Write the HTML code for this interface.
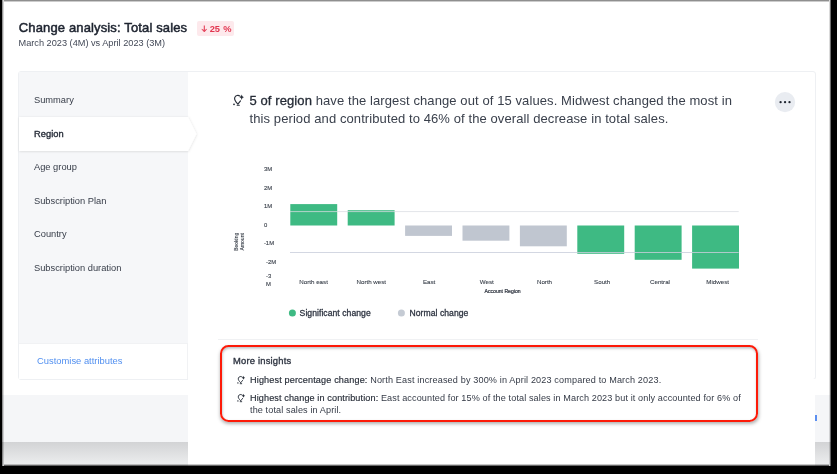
<!DOCTYPE html>
<html><head><meta charset="utf-8">
<style>
*{margin:0;padding:0;box-sizing:border-box}
html,body{width:837px;height:474px;overflow:hidden;background:#000}
body{font-family:"Liberation Sans",sans-serif;position:relative;-webkit-font-smoothing:antialiased}
.a{position:absolute}
#frame{left:2px;top:0;width:829px;height:466px;background:#fff;overflow:hidden;will-change:transform}
.t{white-space:nowrap;line-height:1}
</style></head><body>
<div id="frame" class="a">
  <!-- header -->
  <div class="a t" style="left:16.8px;top:20.6px;font-size:13px;color:#1d232f;-webkit-text-stroke:0.5px #1d232f;letter-spacing:0.14px">Change analysis: Total sales</div>
  <div class="a" style="left:195px;top:21px;width:37px;height:15px;background:#fde9ec;border-radius:2px"></div>
  <svg class="a" style="left:197.5px;top:24.5px" width="8" height="8" viewBox="0 0 8 8"><path d="M4.3 0.5 V5.5" stroke="#e23650" stroke-width="1.05"/><path d="M1.8 4.2 L4.3 7 L6.8 4.2 L4.3 5.4 Z" fill="#e23650" stroke="#e23650" stroke-width="0.5" stroke-linejoin="round"/></svg>
  <div class="a t" style="left:207.7px;top:24.6px;font-size:9.3px;font-weight:bold;color:#e23650">25 <span style="margin-left:0.5px">%</span></div>
  <div class="a t" style="left:16.5px;top:39.4px;font-size:9.2px;color:#434957">March 2023 (4M) vs April 2023 (3M)</div>

  <!-- panel -->
  <div class="a" style="left:16px;top:71px;width:798px;height:309px;border:1px solid #eef0f3;border-radius:3px"></div>
  <!-- left nav -->
  <div class="a" style="left:17px;top:72px;width:169px;height:271px;background:#f6f7f9"></div>
  <div class="a" style="left:17px;top:343px;width:169px;height:36px;background:#fff;border-top:1px solid #f1f2f4;border-right:1px solid #f1f2f4"></div>
  <!-- selected row -->
  <svg class="a" style="left:17px;top:116px;overflow:visible" width="182" height="38" viewBox="0 0 182 38">
    <defs><filter id="sh" x="-5%" y="-20%" width="110%" height="150%"><feDropShadow dx="0.3" dy="0.5" stdDeviation="1.1" flood-color="#000" flood-opacity="0.13"/></filter></defs>
    <path d="M0 1 H169 L177.5 18 L169 35 H0 Z" fill="#fff" filter="url(#sh)"/>
  </svg>
  <div class="a t" style="left:32px;top:96px;font-size:9.3px;color:#363c48">Summary</div>
  <div class="a t" style="left:32px;top:129.5px;font-size:9.3px;color:#262c38;-webkit-text-stroke:0.35px #262c38;letter-spacing:0.05px">Region</div>
  <div class="a t" style="left:32px;top:163px;font-size:9.3px;color:#363c48">Age group</div>
  <div class="a t" style="left:32px;top:196.5px;font-size:9.3px;color:#363c48">Subscription Plan</div>
  <div class="a t" style="left:32px;top:230px;font-size:9.3px;color:#363c48">Country</div>
  <div class="a t" style="left:32px;top:263.5px;font-size:9.3px;color:#363c48">Subscription duration</div>
  <div class="a t" style="left:35px;top:356px;font-size:9.4px;color:#5290f0">Customise attributes</div>

  <!-- bottom background strip -->
  <div class="a" style="left:0;top:395px;width:186px;height:71px;background:#f5f6f8"></div>
  <div class="a" style="left:0;top:441.5px;width:186px;height:24.5px;background:linear-gradient(#d2d3d5,#eeeff0)"></div>
  <div class="a" style="left:813px;top:395px;width:16px;height:71px;background:#f5f6f8"></div>
  <div class="a" style="left:813px;top:441.5px;width:16px;height:24.5px;background:linear-gradient(#d2d3d5,#eeeff0)"></div>
  <div class="a" style="left:813px;top:415px;width:1.5px;height:6px;background:#5b8ff0"></div>
  <!-- white content continues -->
  <div class="a" style="left:186px;top:379px;width:627px;height:87px;background:#fff"></div>

  <!-- insight text -->
  <svg class="a" style="left:228px;top:92px" width="18" height="18" viewBox="0 0 18 18">
    <path d="M10 4.1 C8.3 2.9 5.6 3.2 4.7 5.6 C4 7.7 5.3 9.4 7.9 12.2 L10.5 8.9" fill="none" stroke="#262c37" stroke-width="1.15" stroke-linecap="round" stroke-linejoin="round"/>
    <path d="M7.2 13.3 H9.3" stroke="#262c37" stroke-width="1.1" stroke-linecap="round"/>
    <path d="M11.7 2.6 Q12 4.9 13.9 5.3 Q12 5.7 11.7 7.9 Q11.4 5.7 9.5 5.3 Q11.4 4.9 11.7 2.6 Z" fill="#262c37"/>
    <circle cx="4" cy="12.3" r="0.9" fill="#262c37"/>
  </svg>
  <div class="a" style="left:247.5px;top:92.2px;width:520px;font-size:13px;line-height:18px;letter-spacing:0.095px;color:#3a404c;white-space:nowrap"><span style="color:#262c37;-webkit-text-stroke:0.3px #262c37">5 of region</span> have the largest change out of 15 values. Midwest changed the most in<br>this period and contributed to 46% of the overall decrease in total sales.</div>

  <!-- more button -->
  <svg class="a" style="left:-2px;top:0" width="837" height="130" viewBox="0 0 837 130">
    <circle cx="785" cy="102.1" r="10.2" fill="#e9ecf1"/>
    <circle cx="780.6" cy="102.2" r="1.15" fill="#1f2530"/>
    <circle cx="785.05" cy="102.2" r="1.15" fill="#1f2530"/>
    <circle cx="789.5" cy="102.2" r="1.15" fill="#1f2530"/>
  </svg>

  <!-- chart -->
  <svg class="a" style="left:-2px;top:0" width="837" height="474" viewBox="0 0 837 474">
<rect x="290.3" y="204.1" width="46.9" height="21.4" fill="#3eba83"/>
<rect x="347.7" y="210.2" width="46.9" height="15.3" fill="#3eba83"/>
<rect x="405.1" y="225.5" width="46.9" height="10.4" fill="#c0c6d0"/>
<rect x="462.5" y="225.5" width="46.9" height="15.2" fill="#c0c6d0"/>
<rect x="519.9" y="225.5" width="46.9" height="20.8" fill="#c0c6d0"/>
<rect x="577.3" y="225.5" width="46.9" height="28.3" fill="#3eba83"/>
<rect x="634.7" y="225.5" width="46.9" height="34.3" fill="#3eba83"/>
<rect x="692.1" y="225.5" width="46.9" height="43.1" fill="#3eba83"/>
<line x1="290" y1="211.6" x2="738.7" y2="211.6" stroke="#d9dce2" stroke-opacity="0.85" stroke-width="0.9"/>
<line x1="290" y1="252.5" x2="738.7" y2="252.5" stroke="#c8cddb" stroke-opacity="0.9" stroke-width="0.9"/>
<text x="263.9" y="171.0" font-size="5.9" fill="#3a404b" stroke="#3a404b" stroke-width="0.12">3M</text>
<text x="263.9" y="189.5" font-size="5.9" fill="#3a404b" stroke="#3a404b" stroke-width="0.12">2M</text>
<text x="263.9" y="207.9" font-size="5.9" fill="#3a404b" stroke="#3a404b" stroke-width="0.12">1M</text>
<text x="263.9" y="226.7" font-size="5.9" fill="#3a404b" stroke="#3a404b" stroke-width="0.12">0</text>
<text x="263.9" y="245.0" font-size="5.9" fill="#3a404b" stroke="#3a404b" stroke-width="0.12">-1M</text>
<text x="266" y="263.8" font-size="5.9" fill="#3a404b" stroke="#3a404b" stroke-width="0.12">-2M</text>
<text x="266" y="277.8" font-size="5.9" fill="#3a404b" stroke="#3a404b" stroke-width="0.12">-3</text>
<text x="266" y="286.4" font-size="5.9" fill="#3a404b" stroke="#3a404b" stroke-width="0.12">M</text>
<text x="313.6" y="284.1" font-size="6.2" fill="#3a404b" stroke="#3a404b" stroke-width="0.1" text-anchor="middle">North east</text>
<text x="371.3" y="284.1" font-size="6.2" fill="#3a404b" stroke="#3a404b" stroke-width="0.1" text-anchor="middle">North west</text>
<text x="429.1" y="284.1" font-size="6.2" fill="#3a404b" stroke="#3a404b" stroke-width="0.1" text-anchor="middle">East</text>
<text x="486.8" y="284.1" font-size="6.2" fill="#3a404b" stroke="#3a404b" stroke-width="0.1" text-anchor="middle">West</text>
<text x="544.5" y="284.1" font-size="6.2" fill="#3a404b" stroke="#3a404b" stroke-width="0.1" text-anchor="middle">North</text>
<text x="602.2" y="284.1" font-size="6.2" fill="#3a404b" stroke="#3a404b" stroke-width="0.1" text-anchor="middle">South</text>
<text x="660.0" y="284.1" font-size="6.2" fill="#3a404b" stroke="#3a404b" stroke-width="0.1" text-anchor="middle">Central</text>
<text x="717.7" y="284.1" font-size="6.2" fill="#3a404b" stroke="#3a404b" stroke-width="0.1" text-anchor="middle">Midwest</text>
<text x="484.6" y="293.2" font-size="5.1" fill="#2a303b" stroke="#2a303b" stroke-width="0.2">Account Region</text>
<text transform="translate(238.3,241.8) rotate(-90)" font-size="5" fill="#3a404b" stroke="#3a404b" stroke-width="0.1" text-anchor="middle">Booking</text>
<text transform="translate(244.3,241.8) rotate(-90)" font-size="5" fill="#3a404b" stroke="#3a404b" stroke-width="0.1" text-anchor="middle">Amount</text>
<circle cx="292.4" cy="313.1" r="3.5" fill="#3eba83"/>
<circle cx="401.4" cy="313.1" r="3.5" fill="#c5cbd4"/>
<text x="299.6" y="316.2" font-size="8.6" fill="#2f3542" stroke="#2f3542" stroke-width="0.3" letter-spacing="0.05">Significant change</text>
<text x="409.5" y="316.2" font-size="8.6" fill="#2f3542" stroke="#2f3542" stroke-width="0.3" letter-spacing="0.05">Normal change</text>
</svg>

  <!-- insights box -->
  <div class="a" style="left:216px;top:339px;width:540px;height:1px;background:#f0f1f3"></div>
  <div class="a" style="left:218.4px;top:345px;width:538px;height:77px;border:2px solid #fd1a08;border-radius:8.5px;box-shadow:0.5px 2px 3.5px rgba(0,0,0,0.3),inset 0.5px 1.5px 2.5px rgba(0,20,30,0.27)"></div>
  <div class="a t" style="left:231px;top:355.9px;font-size:9.4px;color:#2f3542;-webkit-text-stroke:0.35px #2f3542;letter-spacing:0.2px">More insights</div>
  <svg class="a" style="left:232.8px;top:374.0px" width="13" height="13" viewBox="0 0 18 18">
    <path d="M10 4.1 C8.3 2.9 5.6 3.2 4.7 5.6 C4 7.7 5.3 9.4 7.9 12.2 L10.5 8.9" fill="none" stroke="#262c37" stroke-width="1.25" stroke-linecap="round" stroke-linejoin="round"/>
    <path d="M7.2 13.4 H9.3" stroke="#262c37" stroke-width="1.25" stroke-linecap="round"/>
    <path d="M11.7 2.4 Q12 4.9 14.1 5.3 Q12 5.7 11.7 8.1 Q11.4 5.7 9.3 5.3 Q11.4 4.9 11.7 2.4 Z" fill="#262c37"/>
    <circle cx="4" cy="12.3" r="1" fill="#262c37"/>
  </svg>
  <svg class="a" style="left:232.8px;top:391.9px" width="13" height="13" viewBox="0 0 18 18">
    <path d="M10 4.1 C8.3 2.9 5.6 3.2 4.7 5.6 C4 7.7 5.3 9.4 7.9 12.2 L10.5 8.9" fill="none" stroke="#262c37" stroke-width="1.25" stroke-linecap="round" stroke-linejoin="round"/>
    <path d="M7.2 13.4 H9.3" stroke="#262c37" stroke-width="1.25" stroke-linecap="round"/>
    <path d="M11.7 2.4 Q12 4.9 14.1 5.3 Q12 5.7 11.7 8.1 Q11.4 5.7 9.3 5.3 Q11.4 4.9 11.7 2.4 Z" fill="#262c37"/>
    <circle cx="4" cy="12.3" r="1" fill="#262c37"/>
  </svg>
  <div class="a" style="left:248px;top:373.7px;width:500px;font-size:9.1px;line-height:12.3px;letter-spacing:0.145px;color:#343a46;white-space:nowrap"><span style="color:#262c37;-webkit-text-stroke:0.15px #262c37">Highest percentage change:</span> North East increased by 300% in April 2023 compared to March 2023.</div>
  <div class="a" style="left:248px;top:391.8px;width:500px;font-size:9.1px;line-height:12.3px;letter-spacing:0.11px;color:#343a46;white-space:nowrap"><span style="color:#262c37;-webkit-text-stroke:0.15px #262c37">Highest change in contribution:</span> East accounted for 15% of the total sales in March 2023 but it only accounted for 6% of<br>the total sales in April.</div>

  <!-- edge shading -->
  <div class="a" style="left:0;top:0;width:1px;height:466px;background:rgba(0,0,0,0.41)"></div>
  <div class="a" style="left:1px;top:0;width:1px;height:466px;background:rgba(0,0,0,0.16)"></div>
  <div class="a" style="left:828px;top:0;width:1px;height:466px;background:rgba(0,0,0,0.57)"></div>
  <div class="a" style="left:827px;top:0;width:1px;height:466px;background:rgba(0,0,0,0.14)"></div>
  <div class="a" style="left:2px;top:0;width:825px;height:1px;background:rgba(0,0,0,0.44)"></div>
  <div class="a" style="left:2px;top:1px;width:825px;height:1px;background:rgba(0,0,0,0.2)"></div>
  <div class="a" style="left:2px;top:465px;width:825px;height:1px;background:rgba(0,0,0,0.6)"></div>
  <div class="a" style="left:2px;top:464px;width:825px;height:1px;background:rgba(0,0,0,0.22)"></div>
</div>
</body></html>
